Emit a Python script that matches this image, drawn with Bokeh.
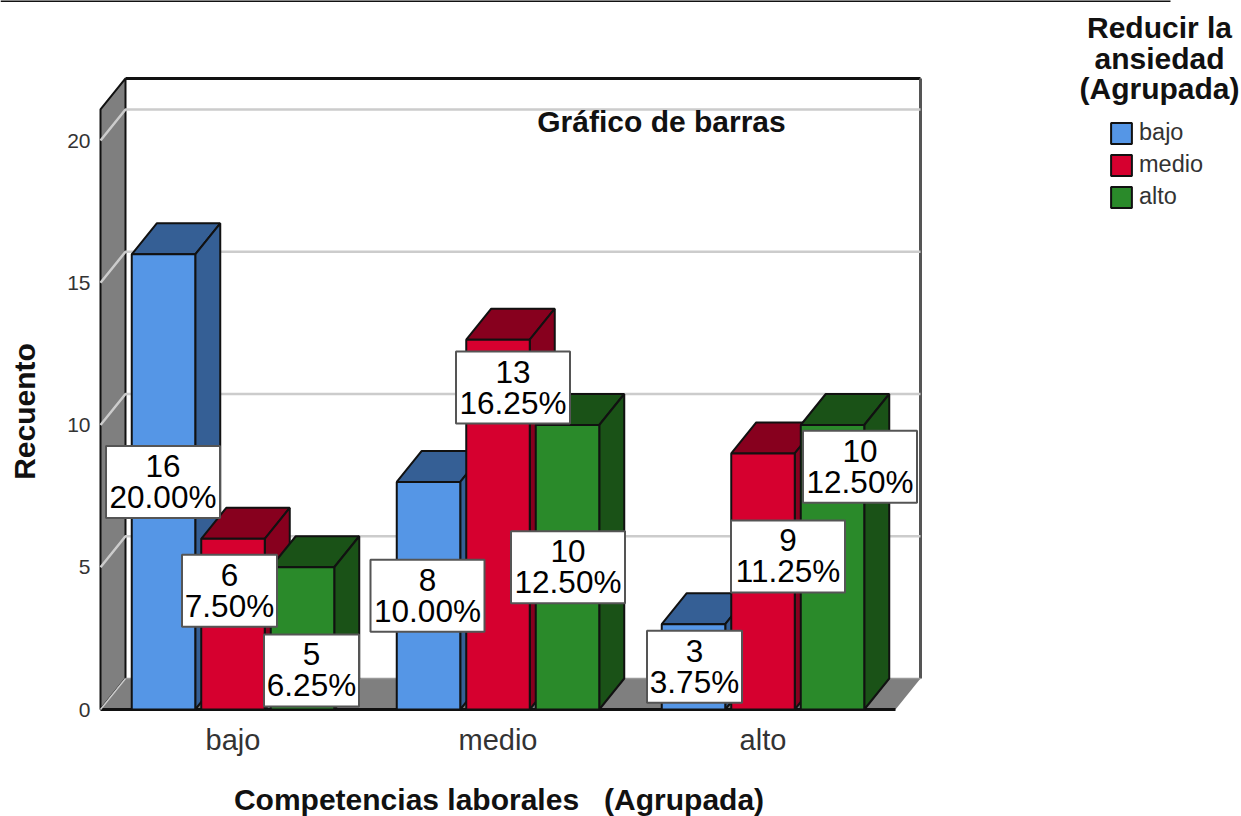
from bokeh.plotting import figure
from bokeh.models import FixedTicker, Legend, LegendItem, ColumnDataSource
from bokeh.embed import file_html
from bokeh.resources import INLINE
from bokeh.core.properties import value

# ---- data ----
categories = ["bajo", "medio", "alto"]
series_names = ["bajo", "medio", "alto"]
bajo_counts = [16, 8, 3]
medio_counts = [6, 13, 9]
alto_counts = [5, 10, 10]
bajo_pct = ["20.00%", "10.00%", "3.75%"]
medio_pct = ["7.50%", "16.25%", "11.25%"]
alto_pct = ["6.25%", "12.50%", "12.50%"]
y_ticks = [0, 5, 10, 15, 20]

# ---- styling / geometry ----
W, H = 1241, 816
PX_PER_CAT, PX_PER_UNIT = 265.0, 28.45
X0_PX, Y0_PX = 232.5, 709.0          # picture pixel of category 0 / value 0
def X(px): return (px - X0_PX) / PX_PER_CAT
def Y(py): return (Y0_PX - py) / PX_PER_UNIT

DX, DY = 25 / PX_PER_CAT, 31 / PX_PER_UNIT
BAR_W, STEP = 63.5 / PX_PER_CAT, 69.5 / PX_PER_CAT
PLANE_L, PLANE_R, PLANE_T = -0.5, 2.5, 21.09
FONT = "Liberation Sans"
INK = "#111111"
fronts = ["#5596E6", "#D6002F", "#2A8A2A"]
darks = ["#355F95", "#87001E", "#1A5217"]
WALL = "#7F7F7F"
GRID = "#CCCCCC"

p = figure(width=W, height=H, output_backend="svg", toolbar_location=None,
           x_range=(X(0), X(W)), y_range=(Y(H), Y(0)),
           min_border_left=0, min_border_right=0, min_border_top=0, min_border_bottom=0,
           outline_line_color=None, background_fill_color="white")
p.grid.visible = False

# axes placed inside the full-picture frame
ya, xa = p.yaxis[0], p.xaxis[0]
ya.fixed_location = PLANE_L
xa.fixed_location = 0
ya.ticker = FixedTicker(ticks=y_ticks)
ya.axis_line_color = None
ya.major_tick_line_color = None
ya.minor_tick_line_color = None
ya.major_tick_out = 0
ya.major_label_standoff = 10
ya.major_label_text_font = FONT
ya.major_label_text_font_size = "21px"
ya.major_label_text_color = "#333333"
xa.ticker = FixedTicker(ticks=list(range(len(categories))))
xa.major_label_overrides = {i: c for i, c in enumerate(categories)}
xa.axis_line_color = None
xa.major_tick_line_color = None
xa.minor_tick_line_color = None
xa.major_tick_out = 0
xa.major_label_standoff = 14
xa.major_label_text_font = FONT
xa.major_label_text_font_size = "29px"
xa.major_label_text_color = "#333333"

# 3D box: back wall, side wall, floor
BACK_T = PLANE_T + DY
p.patch([PLANE_L + DX, PLANE_R + DX, PLANE_R + DX, PLANE_L + DX],
        [DY, DY, BACK_T, BACK_T], fill_color="white", line_color=None)
p.patch([PLANE_L, PLANE_L + DX, PLANE_L + DX, PLANE_L],
        [0, DY, BACK_T, PLANE_T], fill_color=WALL, line_color=INK, line_width=2)
p.patch([PLANE_L, PLANE_L + DX, PLANE_R + DX, PLANE_R],
        [0, DY, DY, 0], fill_color=WALL, line_color=None)
p.line([PLANE_L, PLANE_R], [0, 0], line_color=INK, line_width=3)
p.line([PLANE_L + DX, PLANE_R + DX], [BACK_T, BACK_T], line_color=INK, line_width=3)
p.line([PLANE_R + DX, PLANE_R + DX], [DY, BACK_T], line_color="#555555", line_width=3)
p.line([PLANE_L + DX, PLANE_R + DX], [DY, DY], line_color="#999999", line_width=1.5)

# gridlines wrapped on the wall and back plane
gx, gy = [], []
for t in y_ticks[1:]:
    gx.append([PLANE_L, PLANE_L + DX, PLANE_R + DX])
    gy.append([t, t + DY, t + DY])
p.multi_line(gx, gy, line_color=GRID, line_width=2.5)
p.line([PLANE_L, PLANE_L + DX], [0, DY], line_color=GRID, line_width=1.5)

# bars
series_counts = [bajo_counts, medio_counts, alto_counts]
legend_items = []
for s, counts in enumerate(series_counts):
    off = (s - 1) * STEP
    lefts = [i + off - BAR_W / 2 for i in range(len(counts))]
    rights = [l + BAR_W for l in lefts]
    xs_d, ys_d = [], []
    for l, r, v in zip(lefts, rights, counts):
        xs_d.append([l, l + DX, r + DX, r])         # top face
        ys_d.append([v, v + DY, v + DY, v])
        xs_d.append([r, r + DX, r + DX, r])         # side face
        ys_d.append([0, DY, v + DY, v])
    p.patches(xs_d, ys_d, fill_color=darks[s], line_color=INK, line_width=2)
    q = p.quad(left=lefts, right=rights, bottom=0, top=counts,
               fill_color=fronts[s], line_color=INK, line_width=2)
    legend_items.append(LegendItem(label=series_names[s], renderers=[q]))

# value labels: offset of each box centre from its bar's mid point, pixels
label_shift_x = [[-0.5, -1, 1], [-3.5, 15, 25], [9, 0.5, 27.5]]
label_shift_y = [[0, 0, 0], [33.5, 137, 25], [-32, 0, 100.5]]
pcts = [bajo_pct, medio_pct, alto_pct]
for s, counts in enumerate(series_counts):
    cx, cy, w, top_txt, bot_txt = [], [], [], [], []
    for i, v in enumerate(counts):
        cx.append(i + (s - 1) * STEP + label_shift_x[s][i] / PX_PER_CAT)
        cy.append(v / 2 + label_shift_y[s][i] / PX_PER_UNIT)
        w.append((114 if len(pcts[s][i]) == 6 else 95) / PX_PER_CAT)
        top_txt.append(str(v))
        bot_txt.append(pcts[s][i])
    src = ColumnDataSource(dict(x=cx, y=cy, w=w, a=top_txt, b=bot_txt))
    p.rect(x="x", y="y", width="w", height=72 / PX_PER_UNIT, source=src,
           fill_color="white", line_color="#555555", line_width=2)
    for col, dy in (("a", -16), ("b", 15)):
        p.text(x="x", y="y", text=col, source=src, y_offset=dy,
               text_font=value(FONT), text_font_size="31.5px", text_color="#000000",
               text_align="center", text_baseline="middle")

def lab(txt, px, py, angle=0):
    p.text(x=[X(px)], y=[Y(py)], text=[txt], angle=angle, text_font=value(FONT),
           text_font_size="30px", text_font_style="bold", text_color="#111111",
           text_align="center", text_baseline="middle")

lab("Gráfico de barras", 661, 121)
lab("Recuento", 24, 411, angle=1.5708)
lab("Competencias laborales \u00a0 (Agrupada)", 498.5, 799)
lab("Reducir la", 1159, 27)
lab("ansiedad", 1159, 58)
lab("(Agrupada)", 1159, 88)

# legend
legend = Legend(items=legend_items, location=(1108, H - 210),
                padding=0, margin=0, spacing=5, border_line_color=None,
                background_fill_alpha=0, glyph_width=26, glyph_height=26,
                label_standoff=5, label_text_font=FONT, label_text_font_size="23.5px",
                label_text_color="#333333", label_height=26)
p.add_layout(legend)

# rule across the top of the picture
p.line([X(0), X(1170)], [Y(0.5), Y(0.5)], line_color="#111111", line_width=2)

open("out.html", "w").write(file_html(p, INLINE))
